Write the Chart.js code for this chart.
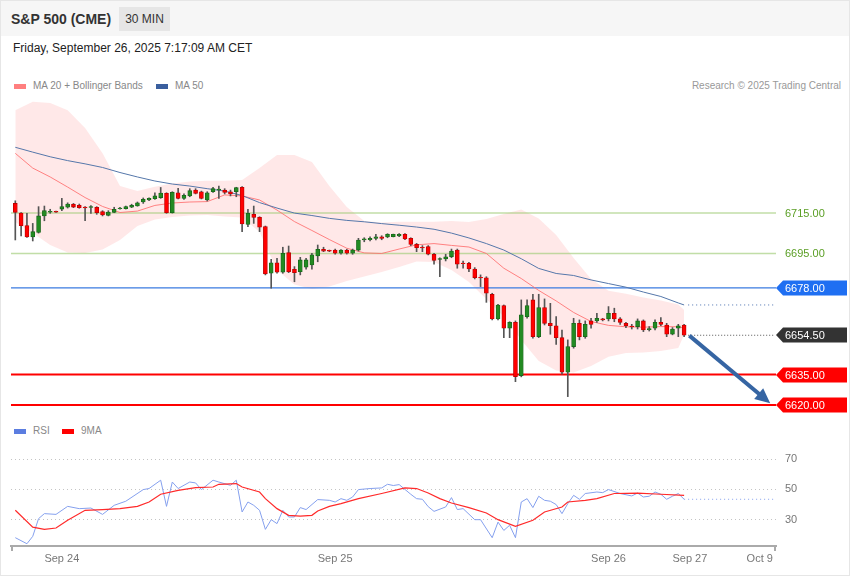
<!DOCTYPE html>
<html>
<head>
<meta charset="UTF-8">
<title>S&amp;P 500 (CME)</title>
<script src="https://cdn.jsdelivr.net/npm/chart.js@4.4.1/dist/chart.umd.min.js"></script>
<style>
  body { margin: 0; background: #fff; font-family: "Liberation Sans", Arial, sans-serif; }
  #frame { position: relative; width: 850px; height: 576px; overflow: hidden; background: #fff; }
  #edge { position: absolute; left: 0; top: 0; width: 850px; height: 576px; box-sizing: border-box; border: 1px solid #e6e6e6; pointer-events: none; }
  #top { position: absolute; left: 0; top: 0; width: 850px; height: 36px; background: #f6f6f6; }
  .abs { position: absolute; white-space: nowrap; }
  #title { left: 11px; top: 11px; font-size: 14px; line-height: 16px; font-weight: bold; color: #333; }
  #period { left: 119px; top: 7px; width: 51px; height: 24px; line-height: 24px; background: #e6e6e6; font-size: 12px; color: #333; text-align: center; }
  #stamp { left: 13px; top: 41px; font-size: 12px; line-height: 14px; color: #222; }
  .leg { font-size: 10px; line-height: 12px; color: #888; }
  .sw { position: absolute; width: 12px; height: 5px; }
  canvas { position: absolute; left: 0; }
</style>
</head>
<body>
<div id="frame">
  <div id="top"></div>
  <div class="abs" id="title">S&amp;P 500 (CME)</div>
  <div class="abs" id="period">30 MIN</div>
  <div class="abs" id="stamp">Friday, September 26, 2025 7:17:09 AM CET</div>

  <div class="sw" style="left:14px; top:84px; background:#ff7f7f"></div>
  <div class="abs leg" style="left:33px; top:80px">MA 20 + Bollinger Bands</div>
  <div class="sw" style="left:156px; top:84px; background:#3a5f9e"></div>
  <div class="abs leg" style="left:175px; top:80px">MA 50</div>
  <div class="abs leg" style="right:9px; top:80px; color:#999">Research © 2025 Trading Central</div>

  <canvas id="price" width="850" height="320" style="top:95px"></canvas>

  <div class="sw" style="left:14px; top:429px; background:#5b7de0"></div>
  <div class="abs leg" style="left:33px; top:425px">RSI</div>
  <div class="sw" style="left:62px; top:429px; background:#ff0000"></div>
  <div class="abs leg" style="left:81px; top:425px">9MA</div>

  <canvas id="rsi" width="850" height="135" style="top:440px"></canvas>
  <div id="edge"></div>
</div>

<script>
// 30 min candles, index 0..115
const opens = [6719.8,6715.0,6708.8,6703.2,6705.4,6713.6,6715.5,6715.7,6717.0,6717.9,
  6719.4,6718.9,6717.9,6717.9,6717.9,6715.7,6713.9,6715.4,6717.2,6717.2,
  6717.9,6718.5,6720.5,6721.5,6722.1,6722.7,6724.8,6715.2,6725.1,6722.3,
  6723.5,6726.4,6725.6,6721.5,6725.6,6726.4,6726.4,6725.6,6725.6,6727.8,
  6709.4,6714.4,6712.9,6708.3,6685.2,6690.4,6685.7,6695.4,6687.2,6686.0,
  6688.2,6689.3,6693.8,6697.1,6696.6,6696.7,6695.1,6696.7,6695.1,6696.7,
  6701.7,6701.8,6702.5,6703.2,6703.2,6703.3,6703.7,6704.5,6702.5,6699.5,
  6698.1,6698.4,6694.6,6692.1,6692.3,6693.4,6696.7,6690.3,6690.1,6687.3,
  6683.2,6683.0,6674.8,6662.6,6669.2,6658.0,6660.9,6634.5,6663.7,6672.0,
  6653.8,6668.2,6660.4,6659.2,6653.3,6636.2,6648.9,6660.4,6653.8,6661.6,
  6661.6,6662.6,6662.6,6665.4,6662.6,6660.4,6659.0,6658.8,6661.6,6657.3,
  6658.0,6660.9,6659.6,6655.0,6658.0,6659.6];
const highs = [6721.1,6715.3,6714.9,6709.9,6718.2,6718.5,6716.9,6716.0,6722.3,6720.1,
  6719.8,6719.5,6718.2,6718.7,6718.2,6716.2,6716.2,6717.9,6717.9,6718.5,
  6719.4,6720.5,6722.5,6722.6,6725.1,6727.7,6725.1,6725.6,6727.3,6724.5,
  6727.1,6727.1,6725.9,6725.6,6727.8,6728.4,6727.1,6726.4,6727.8,6728.1,
  6716.9,6718.5,6713.2,6708.6,6692.1,6692.6,6698.1,6698.7,6688.5,6693.1,
  6692.6,6695.1,6699.2,6698.1,6696.7,6697.2,6696.9,6697.1,6697.2,6702.5,
  6702.8,6703.2,6704.5,6703.8,6704.8,6704.6,6704.8,6704.8,6702.8,6700.0,
  6698.9,6698.9,6695.1,6692.9,6694.6,6697.2,6697.2,6691.3,6690.6,6688.0,
  6684.4,6683.5,6675.3,6669.8,6669.5,6661.2,6661.6,6672.0,6672.0,6674.8,
  6674.8,6672.5,6670.3,6663.7,6657.1,6652.2,6662.9,6662.1,6661.6,6662.9,
  6665.4,6662.9,6668.7,6667.9,6663.2,6660.9,6659.9,6662.6,6662.1,6658.8,
  6662.1,6663.2,6660.4,6658.3,6659.9,6659.9];
const lows = [6701.7,6703.7,6703.0,6701.2,6705.1,6711.2,6714.9,6715.4,6716.2,6717.5,
  6717.7,6717.4,6711.2,6714.9,6714.4,6713.6,6713.6,6715.2,6717.0,6717.0,
  6717.7,6718.4,6719.8,6721.1,6721.8,6722.3,6714.9,6715.0,6722.0,6721.8,
  6723.1,6724.5,6722.0,6721.0,6725.3,6722.3,6724.5,6723.5,6723.1,6705.8,
  6708.3,6709.9,6705.8,6684.4,6677.8,6685.2,6685.2,6685.5,6681.0,6684.4,
  6687.2,6687.2,6690.9,6695.9,6695.9,6694.7,6694.7,6694.7,6694.6,6696.2,
  6700.8,6701.2,6701.7,6701.8,6702.8,6703.2,6703.3,6701.8,6698.9,6695.9,
  6695.9,6694.3,6689.7,6683.5,6691.3,6692.9,6687.7,6687.7,6686.0,6682.4,
  6678.6,6670.8,6662.1,6662.1,6653.3,6653.3,6631.5,6633.9,6662.9,6653.0,
  6653.3,6659.6,6655.0,6650.0,6635.2,6624.1,6648.1,6652.2,6653.0,6658.0,
  6660.9,6661.6,6661.6,6661.2,6659.9,6658.3,6657.6,6657.6,6656.3,6656.6,
  6657.1,6659.2,6653.8,6654.7,6653.8,6653.8];
const closes = [6715.4,6708.8,6703.2,6705.8,6713.6,6716.2,6715.9,6715.6,6718.2,6719.5,
  6718.0,6717.7,6717.7,6718.1,6715.2,6714.1,6715.5,6716.9,6717.5,6718.2,
  6718.9,6720.1,6721.8,6722.3,6723.5,6724.9,6715.2,6725.3,6722.3,6723.8,
  6726.1,6724.8,6722.3,6725.1,6727.1,6726.9,6725.3,6724.5,6727.6,6709.6,
  6714.9,6712.9,6708.0,6684.9,6690.4,6685.7,6695.1,6686.0,6685.5,6691.8,
  6691.8,6694.3,6697.1,6696.2,6696.2,6695.1,6696.7,6695.1,6696.7,6701.7,
  6702.2,6702.5,6703.2,6702.5,6704.5,6704.5,6704.5,6702.2,6699.5,6697.9,
  6697.7,6694.6,6691.6,6692.4,6693.4,6696.2,6689.7,6689.9,6687.3,6683.0,
  6682.9,6675.3,6662.6,6669.5,6658.0,6660.9,6634.0,6664.6,6669.2,6653.8,
  6668.2,6660.4,6659.2,6653.3,6636.2,6648.9,6660.4,6653.8,6659.9,6659.9,
  6662.9,6662.1,6665.4,6662.6,6660.9,6659.2,6658.6,6661.6,6657.1,6657.8,
  6660.9,6659.9,6655.0,6657.6,6659.2,6654.5];

// bands and moving averages, read every 3 candles
const bandIdx = [0,3,6,9,12,15,18,21,24,27,30,33,36,39,42,45,48,51,54,57,
  60,63,66,69,72,75,78,81,84,87,90,93,96,99,102,105,108,111,114,115];
const bandUpper = [6766.0,6770.1,6769.5,6766.0,6757.1,6744.7,6728.4,6725.9,6728.1,6729.7,
  6730.6,6731.0,6731.0,6731.4,6737.3,6743.8,6743.8,6740.3,6728.4,6718.0,
  6711.1,6710.3,6710.7,6710.7,6710.7,6711.1,6710.6,6712.1,6714.5,6716.8,
  6712.3,6704.2,6692.8,6682.4,6676.6,6675.1,6673.2,6671.7,6669.7,6667.0];
const bandLower = [6710.6,6705.1,6699.2,6695.5,6695.2,6697.0,6701.7,6708.6,6711.8,6713.1,
  6713.8,6714.1,6713.3,6712.8,6705.6,6686.8,6679.6,6677.4,6678.6,6681.4,
  6683.6,6685.8,6688.3,6691.0,6690.8,6686.8,6680.9,6672.5,6663.7,6652.2,
  6641.8,6637.1,6636.1,6639.3,6643.8,6645.7,6646.0,6646.7,6648.2,6654.7];
const ma20 = [6744.6,6737.3,6732.9,6727.9,6722.7,6718.3,6715.3,6716.0,6718.8,6720.0,
  6720.5,6720.7,6724.0,6723.5,6721.5,6716.5,6710.8,6706.4,6701.9,6697.6,
  6695.3,6695.0,6697.2,6699.3,6699.9,6699.0,6698.2,6695.0,6687.7,6682.6,
  6676.7,6671.5,6665.8,6661.3,6659.4,6658.7,6658.5,6658.8,6658.7,6658.1];
const ma50 = [6747.6,6745.2,6742.9,6741.0,6739.4,6737.6,6735.1,6732.9,6730.9,6729.4,
  6728.4,6727.1,6725.9,6723.7,6720.2,6717.5,6715.0,6713.8,6712.4,6711.4,
  6710.7,6709.8,6709.0,6708.1,6707.0,6705.1,6702.7,6699.9,6696.7,6692.4,
  6687.6,6685.1,6684.1,6681.9,6680.1,6678.3,6675.9,6673.7,6670.5,6669.5];

// RSI panel
const rsiIdx = [0,2,3,4,5,7,9,11,13,15,17,19,22,23,25,26,27,28,30,31,
  32,34,35,37,38,39,40,41,42,43,44,45,46,47,48,49,50,52,54,55,
  56,57,58,59,61,63,64,65,66,68,69,70,71,72,74,75,76,77,79,80,
  82,83,84,85,86,87,88,89,90,91,92,93,94,95,96,97,98,100,101,102,
  104,106,107,108,109,110,111,112,113,114,115];
const rsiVal = [18,14,18.9,30.6,33.9,33.4,38.7,37.2,37.6,33.4,39.4,42.1,49.8,50.5,56,38.7,54.8,50.5,54.8,54.2,
  49.8,56,54.8,52.6,56,35,41.6,39.4,36.1,23.5,29.9,27.3,36.1,31.7,31.7,37.9,36.6,43.2,42.7,41.6,
  43.8,42.7,44.9,49.8,50.5,50.9,53.3,52.5,53.1,46.7,43.8,43.4,38.5,35.4,38.3,44.5,36.6,37.2,29.9,29.9,
  18,28.3,22.8,26.2,18,41.6,43.8,37.9,45.4,42.7,42.1,39.9,33.9,40.5,46,43.4,47.2,48.2,47.8,49.8,
  47.2,45.6,47.5,44.9,45.4,48.2,46.7,43.4,45.4,47.2,43.4];
const ma9Idx = [0,3,5,7,9,12,15,18,21,23,25,28,31,34,35,38,39,42,43,45,
  47,49,51,52,54,56,59,63,67,69,71,73,75,78,81,83,86,89,91,94,
  95,98,100,103,107,111,115];
const ma9Val = [36.1,25,23.5,24.4,29.5,36.1,36.6,37.2,38.7,41.6,46.7,49.3,51.1,51.5,53.3,53.8,51.5,48.2,43.8,37.2,
  32.8,32.3,32.8,35.6,38.7,40.5,43.8,47.2,50.9,50.5,47.5,43.8,40.9,37.9,34.3,29.9,25.5,29.5,35,38.3,
  41.6,42.7,43.8,47.2,47.5,46.7,46];
const rsiLevels = [30, 50, 70];

// x axis
const dayTickPos = [8, 55, 102, 116, 128];
const dayTickLabels = ['Sep 24', 'Sep 25', 'Sep 26', 'Sep 27', 'Oct 9'];
const xMin = -0.74, xMax = 130.8;

// price levels
const levelValues = [6715, 6695, 6678, 6635, 6620];
const lastPrice = 6654.5;
const ma50Last = 6669.5;
const rsiLast = 43.4;
const projStart = 115.7;
const arrowFrom = { x: 115.9, y: 6654.3 };
const arrowTo = { x: 129.8, y: 6620.8 };

const FONT = '"Liberation Sans", Arial, sans-serif';
const levelStyle = [
  { color: 'rgba(160,205,120,0.65)', width: 1.5 },
  { color: 'rgba(160,205,120,0.65)', width: 1.5 },
  { color: '#3a7be0', width: 1.2 },
  { color: '#ff0000', width: 2 },
  { color: '#ff0000', width: 2 }
];
const tagValues = [6715, 6695, 6678, 6654.5, 6635, 6620];
const tagStyle = [
  { box: null, text: '#5a9e24' },
  { box: null, text: '#5a9e24' },
  { box: '#1f6ff2', text: '#fff' },
  { box: '#333333', text: '#fff' },
  { box: '#ff0000', text: '#fff' },
  { box: '#ff0000', text: '#fff' }
];

const UP = '#228b22', UP_EDGE = '#17661a', DN = '#ff0000', DN_EDGE = '#b80000';

function flat(xs, ys) { return xs.map((x, k) => ({ x: x, y: ys[k] })); }
function hline(v, from, to) { return [{ x: from, y: v }, { x: to, y: v }]; }

const bodies = opens.map((o, i) => {
  let lo = Math.min(o, closes[i]), hi = Math.max(o, closes[i]);
  if (hi - lo < 0.4) { const m = (hi + lo) / 2; lo = m - 0.2; hi = m + 0.2; }
  return { x: i, y: [lo, hi] };
});
const wicks = opens.map((o, i) => ({ x: i, y: [lows[i], highs[i]] }));
const isUp = opens.map((o, i) => closes[i] >= o);

const lineBase = { type: 'line', pointRadius: 0, tension: 0, fill: false };

const priceSets = [
  Object.assign({}, lineBase, { data: flat(bandIdx, bandUpper), borderWidth: 0, borderColor: 'transparent',
    fill: '+1', backgroundColor: 'rgba(255,140,140,0.2)', order: 20 }),
  Object.assign({}, lineBase, { data: flat(bandIdx, bandLower), borderWidth: 0, borderColor: 'transparent', order: 20 })
];
levelValues.forEach((v, k) => {
  priceSets.push(Object.assign({}, lineBase, { data: hline(v, xMin, xMax),
    borderColor: levelStyle[k].color, borderWidth: levelStyle[k].width, order: 15 }));
});
priceSets.push(Object.assign({}, lineBase, { data: hline(lastPrice, projStart, xMax - 0.2),
  borderColor: '#555', borderWidth: 1, borderDash: [1, 2], order: 15 }));
priceSets.push(Object.assign({}, lineBase, { data: hline(ma50Last, projStart, xMax - 0.2),
  borderColor: '#4a6fb0', borderWidth: 1, borderDash: [1, 3], order: 15 }));
priceSets.push(Object.assign({}, lineBase, { data: flat(bandIdx, ma20), borderColor: 'rgba(255,110,110,0.85)', borderWidth: 1, order: 5 }));
priceSets.push(Object.assign({}, lineBase, { data: flat(bandIdx, ma50), borderColor: '#5577aa', borderWidth: 1, order: 4 }));
priceSets.push({ type: 'bar', data: wicks, backgroundColor: '#555', borderWidth: 0, barThickness: 1, grouped: false, order: 2 });
priceSets.push({ type: 'bar', data: bodies, grouped: false, order: 1, barThickness: 4,
  backgroundColor: isUp.map(u => u ? UP : DN), borderColor: isUp.map(u => u ? UP_EDGE : DN_EDGE),
  borderWidth: 0.8, borderSkipped: false });

const tagPlugin = {
  id: 'tags',
  afterDraw(chart) {
    const ctx = chart.ctx, ys = chart.scales.y, xs = chart.scales.x, x0 = chart.chartArea.right;
    ctx.save();
    // projection arrow
    const ax = xs.getPixelForValue(arrowFrom.x), ay = ys.getPixelForValue(arrowFrom.y);
    const bx = xs.getPixelForValue(arrowTo.x), by = ys.getPixelForValue(arrowTo.y);
    const ang = Math.atan2(by - ay, bx - ax), head = 15;
    ctx.strokeStyle = '#3665a3';
    ctx.fillStyle = '#3665a3';
    ctx.lineWidth = 4;
    ctx.beginPath();
    ctx.moveTo(ax, ay);
    ctx.lineTo(bx - Math.cos(ang) * head * 0.8, by - Math.sin(ang) * head * 0.8);
    ctx.stroke();
    ctx.beginPath();
    ctx.moveTo(bx, by);
    ctx.lineTo(bx - head * Math.cos(ang) + 7 * Math.sin(ang), by - head * Math.sin(ang) - 7 * Math.cos(ang));
    ctx.lineTo(bx - head * Math.cos(ang) - 7 * Math.sin(ang), by - head * Math.sin(ang) + 7 * Math.cos(ang));
    ctx.closePath();
    ctx.fill();
    // price tags
    ctx.font = '11px ' + FONT;
    ctx.textBaseline = 'middle';
    tagValues.forEach((v, k) => {
      const py = Math.round(ys.getPixelForValue(v));
      const st = tagStyle[k];
      if (st.box) {
        ctx.fillStyle = st.box;
        ctx.beginPath();
        ctx.moveTo(x0, py);
        ctx.lineTo(x0 + 7, py - 7.5);
        ctx.lineTo(x0 + 71, py - 7.5);
        ctx.lineTo(x0 + 71, py + 7.5);
        ctx.lineTo(x0 + 7, py + 7.5);
        ctx.closePath();
        ctx.fill();
      }
      ctx.fillStyle = st.text;
      ctx.fillText(v.toFixed(2), x0 + 9, py + 0.5);
    });
    ctx.restore();
  }
};

new Chart(document.getElementById('price'), {
  type: 'bar',
  data: { datasets: priceSets },
  options: {
    responsive: false,
    animation: false,
    layout: { padding: { left: 11, right: 74, top: 0, bottom: 0 } },
    plugins: { legend: { display: false }, tooltip: { enabled: false } },
    scales: {
      x: { type: 'linear', min: xMin, max: xMax, offset: false, display: false },
      y: { min: 6615, max: 6773.5, display: false }
    }
  },
  plugins: [tagPlugin]
});

const endTicks = {
  id: 'endTicks',
  afterDraw(chart) {
    const ctx = chart.ctx, a = chart.chartArea;
    ctx.save();
    ctx.strokeStyle = '#aaa';
    ctx.lineWidth = 2;
    ctx.beginPath();
    ctx.moveTo(a.left + 1, a.bottom); ctx.lineTo(a.left + 1, a.bottom + 5);
    ctx.moveTo(a.right - 1, a.bottom); ctx.lineTo(a.right - 1, a.bottom + 5);
    ctx.stroke();
    ctx.restore();
  }
};

new Chart(document.getElementById('rsi'), {
  type: 'line',
  data: {
    datasets: [
      Object.assign({}, lineBase, { data: flat(ma9Idx, ma9Val), borderColor: '#ff2a2a', borderWidth: 1.2, order: 1 }),
      Object.assign({}, lineBase, { data: flat(rsiIdx, rsiVal), borderColor: '#85a0ee', borderWidth: 1, order: 2 }),
      Object.assign({}, lineBase, { data: hline(rsiLast, 115, xMax - 0.2), borderColor: '#85a0ee', borderWidth: 1, borderDash: [1, 3], order: 3 })
    ]
  },
  options: {
    responsive: false,
    animation: false,
    layout: { padding: { left: 11, right: 0, top: 5, bottom: 0 } },
    plugins: { legend: { display: false }, tooltip: { enabled: false } },
    scales: {
      x: {
        type: 'linear', min: xMin, max: xMax, offset: false,
        grid: { display: false, drawTicks: false },
        border: { display: true, color: '#aaa', width: 2 },
        afterBuildTicks: s => { s.ticks = dayTickPos.map(v => ({ value: v })); },
        afterFit: s => { s.height = 29; },
        ticks: {
          autoSkip: false, maxRotation: 0, padding: 6, color: '#777',
          font: { size: 11, family: FONT },
          callback: v => dayTickLabels[dayTickPos.indexOf(v)]
        }
      },
      y: {
        position: 'right', min: 12.5, max: 78.95,
        grid: { color: '#c4c4c4', lineWidth: 1, drawTicks: true, tickLength: 9, tickColor: 'rgba(0,0,0,0)' },
        border: { display: false, dash: [1, 3] },
        afterBuildTicks: s => { s.ticks = rsiLevels.map(v => ({ value: v })); },
        afterFit: s => { s.width = 74; },
        ticks: { padding: 0, color: '#777', font: { size: 11, family: FONT, lineHeight: 1 } }
      }
    }
  },
  plugins: [endTicks]
});
</script>
</body>
</html>
